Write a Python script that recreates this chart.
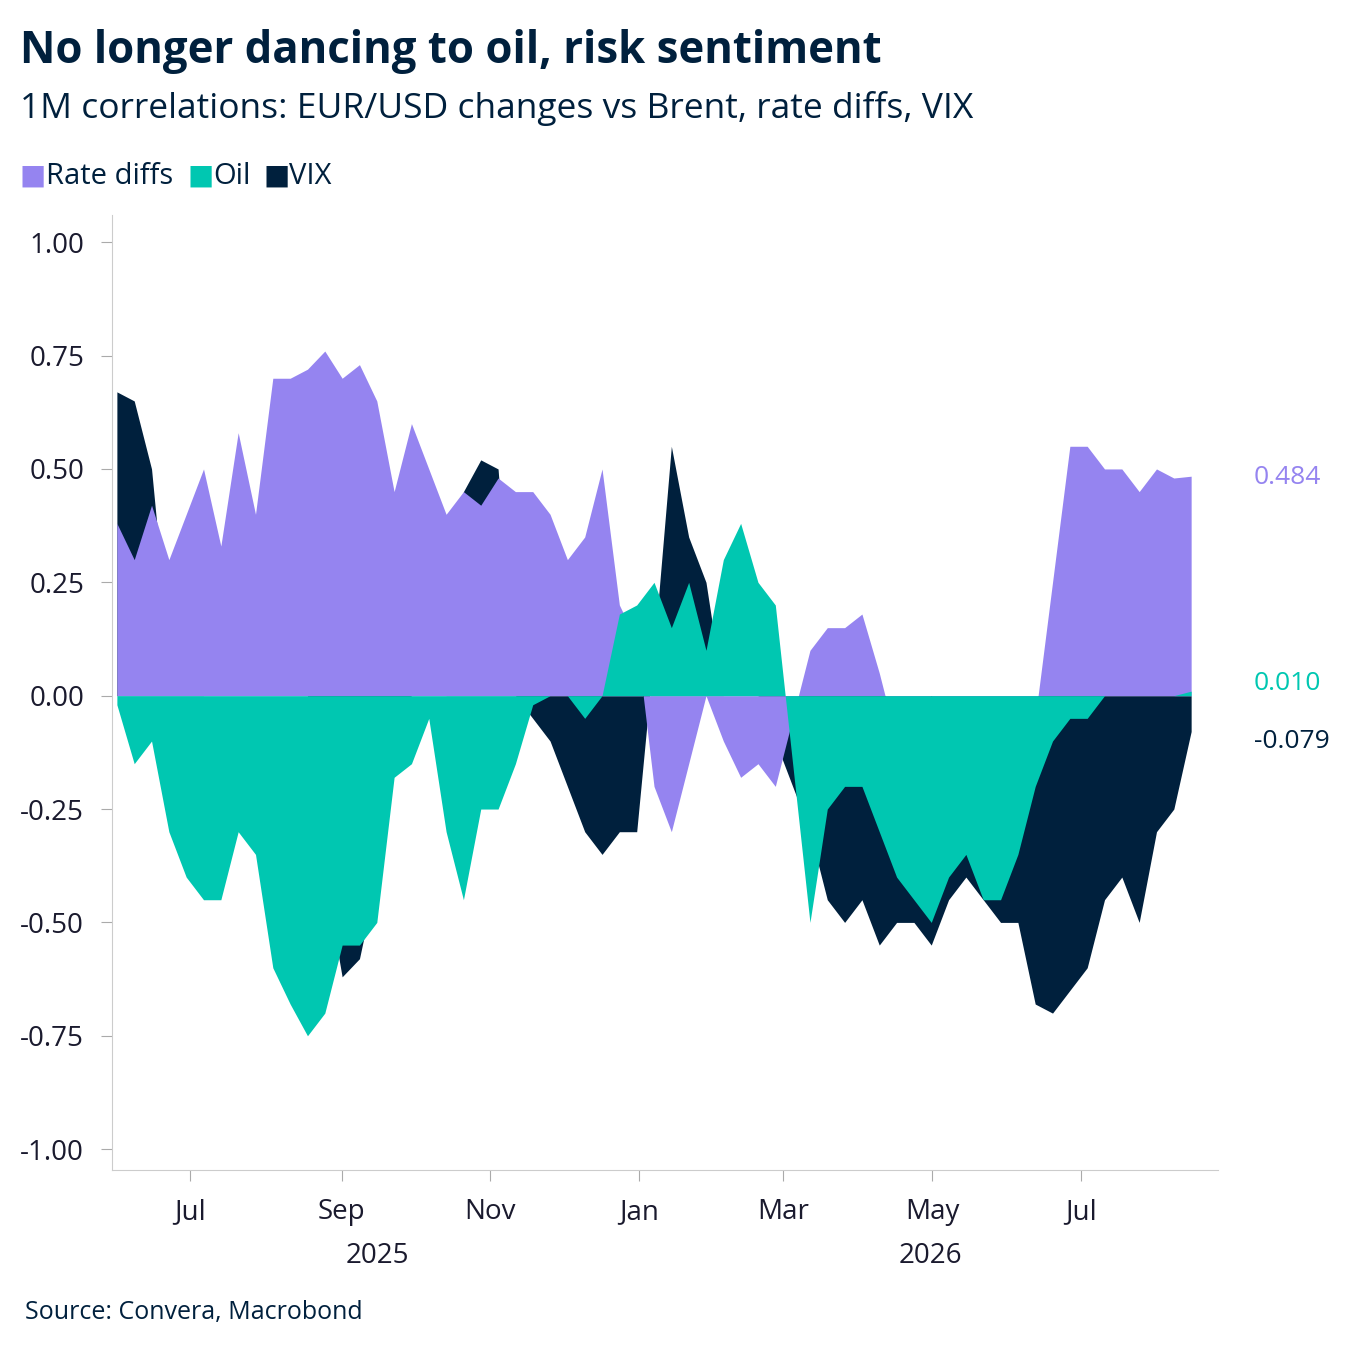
import numpy as np, pandas as pd, matplotlib
matplotlib.use("Agg")
import matplotlib.pyplot as plt, seaborn as sns, matplotlib.dates as mdates

dates = pd.date_range("2025-06-01", "2026-08-15", periods=63)
rate = [0.38,0.30,0.42,0.30,0.40,0.50,0.33,0.58,0.40,0.70,0.70,0.72,0.76,0.70,0.73,0.65,0.45,0.60,0.50,0.40,
        0.45,0.42,0.48,0.45,0.45,0.40,0.30,0.35,0.50,0.20,0.12,-0.20,-0.30,-0.15,0.0,-0.10,-0.18,-0.15,-0.20,-0.05,
        0.10,0.15,0.15,0.18,0.05,-0.10,-0.05,0.0,-0.05,-0.05,-0.15,-0.20,-0.10,-0.05,0.25,0.55,0.55,0.50,0.50,0.45,
        0.50,0.48,0.484]
oil = [-0.02,-0.15,-0.10,-0.30,-0.40,-0.45,-0.45,-0.30,-0.35,-0.60,-0.68,-0.75,-0.70,-0.55,-0.55,-0.50,-0.18,-0.15,-0.05,-0.30,
       -0.45,-0.25,-0.25,-0.15,-0.02,0.0,0.0,-0.05,0.0,0.18,0.20,0.25,0.15,0.25,0.10,0.30,0.38,0.25,0.20,-0.15,
       -0.50,-0.25,-0.20,-0.20,-0.30,-0.40,-0.45,-0.50,-0.40,-0.35,-0.45,-0.45,-0.35,-0.20,-0.10,-0.05,-0.05,0.0,0.0,0.0,
       0.0,0.0,0.010]
vix = [0.67,0.65,0.50,0.10,0.05,0.0,0.0,0.0,0.0,0.0,0.0,0.0,-0.40,-0.62,-0.58,-0.40,-0.05,0.0,0.0,0.0,
       0.45,0.52,0.50,0.0,-0.05,-0.10,-0.20,-0.30,-0.35,-0.30,-0.30,0.10,0.55,0.35,0.25,0.0,0.0,0.0,-0.10,-0.20,
       -0.30,-0.45,-0.50,-0.45,-0.55,-0.50,-0.50,-0.55,-0.45,-0.40,-0.45,-0.50,-0.50,-0.68,-0.70,-0.65,-0.60,-0.45,-0.40,-0.50,
       -0.30,-0.25,-0.079]

PURPLE, TEAL, NAVY = "#9584F0", "#00C7B1", "#00203D"
sns.set_style("white")
plt.rcParams['font.family'] = ['Open Sans', 'DejaVu Sans']
fig = plt.figure(figsize=(13.59, 13.56), dpi=100)
ax = fig.add_axes([112/1359, 1-1170/1356, (1218-112)/1359, (1170-215)/1356])
for vals, c in [(vix, NAVY), (rate, PURPLE), (oil, TEAL)]:
    sns.lineplot(x=dates, y=vals, ax=ax, color=c, linewidth=0)
    ax.fill_between(dates, 0, vals, color=c, linewidth=0)
ax.set_xlim(pd.Timestamp("2025-05-30"), pd.Timestamp("2026-08-26"))
ax.set_ylim(-1.046, 1.06)
ax.set_yticks([1,0.75,0.5,0.25,0,-0.25,-0.5,-0.75,-1])
ax.set_yticklabels(["1.00","0.75","0.50","0.25","0.00","-0.25","-0.50","-0.75","-1.00"], fontsize=20, color="#1a1a2e")
ticks = [pd.Timestamp(d) for d in ["2025-07-01","2025-09-01","2025-11-01","2026-01-01","2026-03-01","2026-05-01","2026-07-01"]]
ax.set_xticks(ticks)
ax.set_xticklabels(["Jul","Sep","Nov","Jan","Mar","May","Jul"], fontsize=20, color="#1a1a2e")
ax.tick_params(axis='both', length=8, color="#aaaaaa", direction='out', bottom=True, left=True, pad=12)
for s in ["top","right"]: ax.spines[s].set_visible(False)
for s in ["left","bottom"]: ax.spines[s].set_color("#cccccc")
ax.set_xlabel(""); ax.set_ylabel("")
fig.text(377/1359, 1-1256/1356, "2025", fontsize=20, ha="center", va="center", color="#1a1a2e")
fig.text(930/1359, 1-1256/1356, "2026", fontsize=20, ha="center", va="center", color="#1a1a2e")
fig.text(1254/1359, 1-477/1356, "0.484", fontsize=19, color=PURPLE, va="center")
fig.text(1254/1359, 1-683/1356, "0.010", fontsize=19, color=TEAL, va="center")
fig.text(1254/1359, 1-742/1356, "-0.079", fontsize=19, color=NAVY, va="center")
fig.text(20/1359, 1-52/1356, "No longer dancing to oil, risk sentiment", fontsize=31.5, fontweight="bold", color=NAVY, va="center")
fig.text(20/1359, 1-108/1356, "1M correlations: EUR/USD changes vs Brent, rate diffs, VIX", fontsize=25.5, color=NAVY, va="center")
x = 20
for lab, c, w in [("Rate diffs", PURPLE, 167), ("Oil", TEAL, 76), ("VIX", NAVY, 80)]:
    fig.text(x/1359, 1-177/1356, "■", fontsize=20, color=c, va="center")
    fig.text((x+26)/1359, 1-177/1356, lab, fontsize=21, color=NAVY, va="center")
    x += w
fig.text(25/1359, 1-1313/1356, "Source: Convera, Macrobond", fontsize=18, color=NAVY, va="center")
fig.savefig("out.png", dpi=100)
